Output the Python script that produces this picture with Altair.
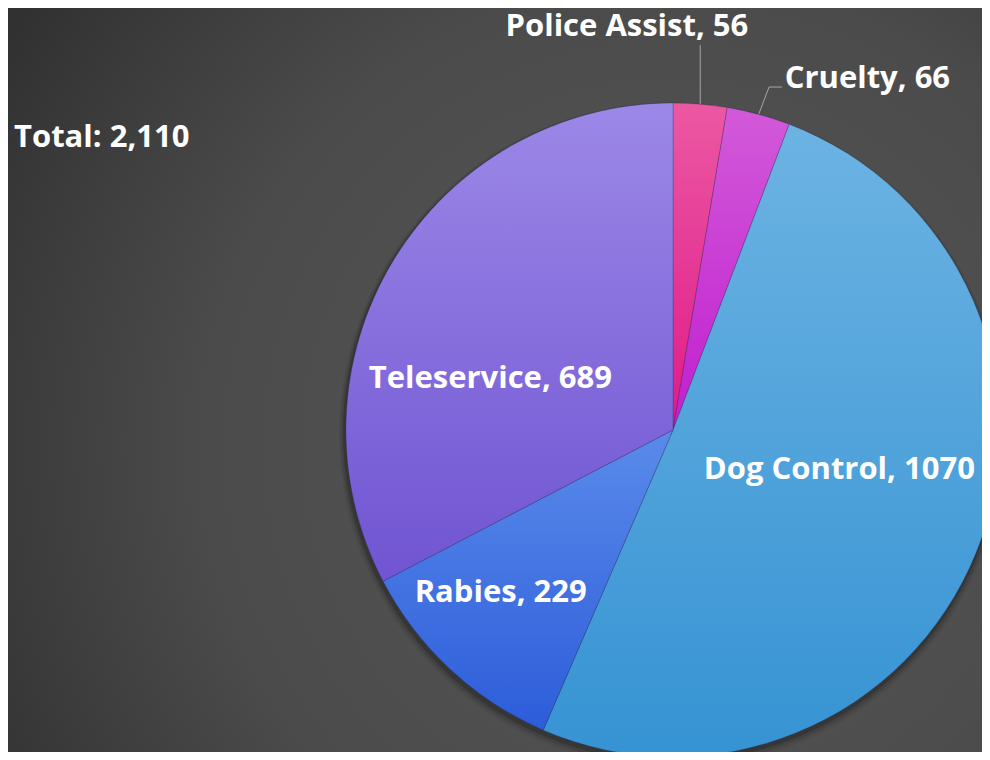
import math
import altair as alt
import pandas as pd

# ---------------- data ----------------
categories = ["Police Assist", "Cruelty", "Dog Control", "Rabies", "Teleservice"]
values = [56, 66, 1070, 229, 689]
total_prefix = "Total: "

# ---------------- layout / style ----------------
W, H = 974, 744
CX, CY, R = 665, 422, 327
FONT = "Open Sans"
FS = 31

slice_colors = {
    "Police Assist": ("#ec58a2", "#df1a89"),
    "Cruelty": ("#d25ad9", "#c01fcf"),
    "Dog Control": ("#6cb3e3", "#3693d3"),
    "Rabies": ("#5a8bea", "#2d5cda"),
    "Teleservice": ("#9c88e7", "#7054d2"),
}
# radius along mid-angle, dx, dy, align
label_layout = {
    "Police Assist": (407, -80, 3, "center"),
    "Cruelty": (392, 9, 27, "left"),
    "Dog Control": (172, 7, -25, "center"),
    "Rabies": (234, -13, -8, "center"),
    "Teleservice": (182, -27, 43, "center"),
}
# leader: elbow offset (ox, oy) from slice edge, then horizontal run hx
leader_layout = {
    "Police Assist": (0, -59, 0),
    "Cruelty": (10.4, -27.4, 13),
}

df = pd.DataFrame({"category": categories, "value": values,
                   "order": list(range(len(categories)))})

base = (
    alt.Chart(df)
    .transform_joinaggregate(total="sum(value)")
    .transform_window(cum="sum(value)", sort=[alt.SortField("order", order="ascending")],
                      frame=[None, 0])
    .transform_calculate(
        a0="(datum.cum - datum.value) / datum.total * 2 * PI",
        a1="datum.cum / datum.total * 2 * PI",
        am="(datum.cum - datum.value / 2) / datum.total * 2 * PI",
        label="datum.category + ', ' + datum.value",
    )
)

one = alt.Chart(df).transform_aggregate(n="count()")

bg_grad = alt.Gradient(
    gradient="radial", x1=0.68, y1=0.57, r1=0, x2=0.68, y2=0.57, r2=0.8,
    stops=[alt.GradientStop(color="#575757", offset=0),
           alt.GradientStop(color="#4b4b4b", offset=0.6),
           alt.GradientStop(color="#3b3b3b", offset=0.85),
           alt.GradientStop(color="#313131", offset=1)],
)
background = one.mark_rect(fill=bg_grad).encode(
    x=alt.value(0), x2=alt.value(W), y=alt.value(0), y2=alt.value(H))

shadows = []
for extra, dy, op in [(6, 5, 0.06), (4, 4, 0.10), (2, 3, 0.18)]:
    shadows.append(
        one.mark_arc(outerRadius=R + extra, theta=0, theta2=2 * math.pi,
                     fill="#000000", fillOpacity=op)
        .encode(x=alt.value(CX - 1), y=alt.value(CY + dy))
    )

slices = []
for cat in categories:
    top, bot = slice_colors[cat]
    g = alt.Gradient(gradient="linear", x1=0, y1=0, x2=0, y2=1,
                     stops=[alt.GradientStop(color=top, offset=0),
                            alt.GradientStop(color=bot, offset=1)])
    slices.append(
        base.transform_filter(alt.datum.category == cat)
        .mark_arc(outerRadius=R, fill=g, stroke="#2a2a60", strokeOpacity=0.35,
                  strokeWidth=0.8)
        .encode(theta=alt.Theta("a0:Q", scale=None), theta2="a1:Q",
                x=alt.value(CX), y=alt.value(CY))
    )

leaders = []
for cat, (ox, oy, hx) in leader_layout.items():
    b = base.transform_filter(alt.datum.category == cat).transform_calculate(
        ex=f"{CX} + {R} * sin(datum.am)",
        ey=f"{CY} - {R} * cos(datum.am)",
    ).transform_calculate(
        bx=f"datum.ex + {ox}", by=f"datum.ey + ({oy})",
    ).transform_calculate(
        hx2=f"datum.bx + {hx}",
    )
    leaders.append(
        b.mark_rule(color="#a6a6a6", strokeWidth=1).encode(
            x=alt.X("ex:Q", scale=None, axis=None), y=alt.Y("ey:Q", scale=None, axis=None),
            x2="bx:Q", y2="by:Q")
    )
    if hx:
        leaders.append(
            b.mark_rule(color="#a6a6a6", strokeWidth=1).encode(
                x=alt.X("bx:Q", scale=None, axis=None), y=alt.Y("by:Q", scale=None, axis=None),
                x2="hx2:Q", y2="by:Q")
        )

labels = []
for cat in categories:
    r, dx, dy, align = label_layout[cat]
    labels.append(
        base.transform_filter(alt.datum.category == cat)
        .transform_calculate(
            lx=f"{CX} + {r} * sin(datum.am)",
            ly=f"{CY} - {r} * cos(datum.am)",
        )
        .mark_text(font=FONT, fontSize=FS, fontWeight="bold", color="#ffffff",
                   align=align, baseline="middle", dx=dx, dy=dy)
        .encode(x=alt.X("lx:Q", scale=None, axis=None),
                y=alt.Y("ly:Q", scale=None, axis=None),
                text="label:N")
    )

total_text = (
    alt.Chart(df)
    .transform_aggregate(total="sum(value)")
    .transform_calculate(t=f"'{total_prefix}' + format(datum.total, ',')")
    .mark_text(font=FONT, fontSize=FS, fontWeight="bold", color="#ffffff",
               align="left", baseline="middle")
    .encode(x=alt.value(6), y=alt.value(130), text="t:N")
)

chart = alt.layer(background, *shadows, *slices, *leaders, *labels, total_text).properties(
    width=W, height=H, autosize=alt.AutoSizeParams(type="none"), padding=0,
    background="#333333",
).configure_view(stroke=None)

chart.save("out.html", embed_options={"renderer": "svg", "actions": False})
